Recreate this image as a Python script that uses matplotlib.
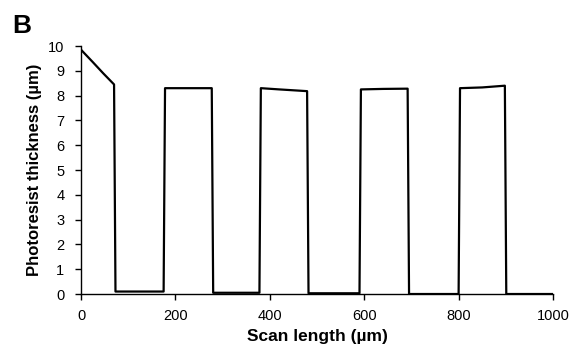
import matplotlib
matplotlib.use("Agg")
import matplotlib.pyplot as plt

scan_length = [0, 25, 47, 70, 73, 100, 175, 178, 230, 277, 280, 300, 378, 381, 420, 479, 482, 530, 590, 593, 640, 692, 695, 750, 800, 803, 850, 898, 901, 950, 1000]
thickness = [9.85, 9.35, 8.9, 8.45, 0.1, 0.1, 0.1, 8.3, 8.3, 8.3, 0.05, 0.05, 0.05, 8.3, 8.25, 8.18, 0.03, 0.03, 0.03, 8.25, 8.27, 8.28, 0.0, 0.0, 0.0, 8.3, 8.33, 8.4, 0.0, 0.0, 0.0]

x_ticks = [0, 200, 400, 600, 800, 1000]
y_ticks = list(range(0, 11))

plt.rcParams['font.family'] = ['Liberation Sans', 'DejaVu Sans']

fig = plt.figure(figsize=(5.73, 3.47), dpi=100)
ax = fig.add_axes([0.1414, 0.1527, 0.8237, 0.7147])
ax.plot(scan_length, thickness, color='black', linewidth=1.6)
ax.set_xlim(0, 1000)
ax.set_ylim(0, 10)
ax.set_xticks(x_ticks)
ax.set_yticks(y_ticks)
for s in ['top', 'right']:
    ax.spines[s].set_visible(False)
for s in ['left', 'bottom']:
    ax.spines[s].set_linewidth(1.0)
ax.tick_params(direction='out', length=4, width=1, labelsize=10.5, colors='black')
ax.tick_params(axis='x', pad=7)
ax.tick_params(axis='y', pad=8)
ax.set_xlabel('Scan length (µm)', fontsize=12.5, fontweight='bold', labelpad=4)
ax.set_ylabel('Photoresist thickness (µm)', fontsize=12, fontweight='bold', labelpad=4)
fig.text(0.022, 0.905, 'B', fontsize=19, fontweight='bold')
fig.savefig('out.png', dpi=100)
